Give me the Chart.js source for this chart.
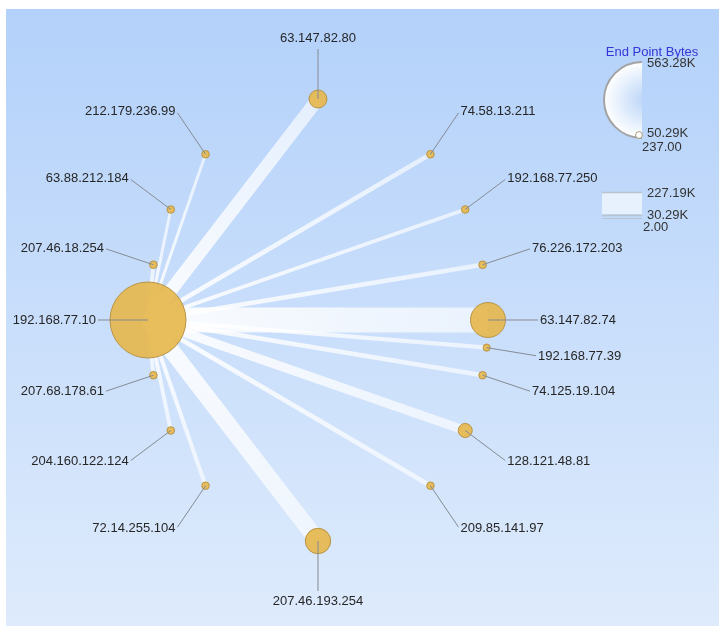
<!DOCTYPE html>
<html>
<head>
<meta charset="utf-8">
<title>End Point Bytes</title>
<script src="https://cdn.jsdelivr.net/npm/chart.js@4.4.1/dist/chart.umd.min.js"></script>
<style>
  body { margin: 0; background: #fff; }
  canvas { display: block; }
</style>
</head>
<body>
<canvas id="graphChart" width="719" height="629"></canvas>
<script>
// hosts around the ring, index 0 is the hub everything talks to
const hosts = ['192.168.77.10', '63.147.82.80', '74.58.13.211', '192.168.77.250', '76.226.172.203',
    '63.147.82.74', '192.168.77.39', '74.125.19.104', '128.121.48.81', '209.85.141.97',
    '207.46.193.254', '72.14.255.104', '204.160.122.124', '207.68.178.61', '207.46.18.254',
    '63.88.212.184', '212.179.236.99'];
// layout: row on the ellipse (-4 top .. 4 bottom) and side (-1 left, 1 right)
const slots = [0, -4, -3, -2, -1, 0, 0.5, 1, 2, 3, 4, 3, 2, 1, -1, -2, -3];
const sides = [-1, 0, 1, 1, 1, 1, 1, 1, 1, 1, 0, -1, -1, -1, -1, -1, -1];
// bytes per end point (K)
const endPointBytes = [563.28, 133, 56, 56, 57, 259, 53, 56, 104, 56, 188, 56, 56, 56, 57, 56, 56];
// bytes on the link hub -> host (K)
const linkBytes = [null, 118, 40, 36, 42, 227.19, 38, 42, 82, 44, 150, 36, 35, 35, 34, 27, 27];
const nodeLegend = ['563.28K', '50.29K', '237.00'];
const linkLegend = ['227.19K', '30.29K', '2.00'];

const MAX_NODE = 563.28, MAX_LINK = 227.19;
const FONT = '13px "Liberation Sans", Arial, sans-serif';

const xOf = i => sides[i] * Math.sqrt(1 - Math.pow(slots[i] / 4, 2));
const nodeR = v => Math.max(3, 38 * v / MAX_NODE);
const linkW = v => Math.max(2, 25 * v / MAX_LINK);

function linkColor(ctx) {
    const chart = ctx.chart;
    const ds = chart.data.datasets[ctx.datasetIndex];
    if (!chart.chartArea || !ds) return 'rgba(255,255,255,0.7)';
    const xs = chart.scales.x, ys = chart.scales.y;
    const a = ds.data[0], b = ds.data[1];
    const g = chart.ctx.createLinearGradient(xs.getPixelForValue(a.x), ys.getPixelForValue(a.y),
        xs.getPixelForValue(b.x), ys.getPixelForValue(b.y));
    g.addColorStop(0, 'rgba(255,255,255,0.9)');
    g.addColorStop(1, 'rgba(255,255,255,0.62)');
    return g;
}

const linkSets = [];
hosts.forEach((h, i) => {
    if (i === 0) return;
    linkSets.push({
        type: 'line',
        label: h,
        data: [{x: xOf(0), y: slots[0]}, {x: xOf(i), y: slots[i]}],
        borderWidth: linkW(linkBytes[i]),
        borderColor: linkColor,
        borderCapStyle: 'butt',
        pointRadius: 0,
        order: 2,
        clip: false
    });
});

const nodeSet = {
    type: 'bubble',
    label: 'End Point Bytes',
    data: hosts.map((h, i) => ({x: xOf(i), y: slots[i], r: nodeR(endPointBytes[i])})),
    backgroundColor: 'rgba(230,183,78,0.92)',
    borderColor: '#b89445',
    borderWidth: 1,
    order: 1,
    clip: false
};

const backdrop = {
    id: 'backdrop',
    beforeDraw(chart) {
        const c = chart.ctx;
        c.save();
        c.fillStyle = '#fff';
        c.fillRect(0, 0, chart.width, chart.height);
        const g = c.createLinearGradient(0, 9, 0, 626);
        g.addColorStop(0, '#b3d1fa');
        g.addColorStop(1, '#deebfc');
        c.fillStyle = g;
        c.fillRect(6, 9, chart.width - 6, 617);
        c.restore();
    }
};

const hostLabels = {
    id: 'hostLabels',
    afterDatasetsDraw(chart) {
        const c = chart.ctx;
        const meta = chart.getDatasetMeta(chart.data.datasets.indexOf(nodeSet));
        const cx = chart.scales.x.getPixelForValue(0), cy = chart.scales.y.getPixelForValue(0);
        c.save();
        c.font = FONT;
        c.fillStyle = '#262626';
        c.strokeStyle = '#858b93';
        c.lineWidth = 1;
        meta.data.forEach((pt, i) => {
            const dx = pt.x - cx, dy = pt.y - cy;
            const len = Math.hypot(dx, dy);
            const ux = dx / len, uy = dy / len;
            const ex = pt.x + ux * 50, ey = pt.y + uy * 50;
            c.beginPath();
            c.moveTo(pt.x, pt.y);
            c.lineTo(ex, ey);
            c.stroke();
            if (Math.abs(ux) < 0.01) {
                c.textAlign = 'center';
                c.textBaseline = uy < 0 ? 'bottom' : 'top';
                c.fillText(hosts[i], ex, ey + (uy < 0 ? -4 : 4));
            } else {
                c.textAlign = ux < 0 ? 'right' : 'left';
                c.textBaseline = 'middle';
                c.fillText(hosts[i], ex + (ux < 0 ? -2 : 2), ey + uy * 2);
            }
        });
        c.restore();
    }
};

const sizeLegend = {
    id: 'sizeLegend',
    afterDraw(chart) {
        const c = chart.ctx;
        c.save();
        c.font = FONT;
        c.fillStyle = '#3535d8';
        c.textAlign = 'center';
        c.textBaseline = 'middle';
        c.fillText('End Point Bytes', 652, 52);

        // half disc for node sizes
        const g = c.createRadialGradient(646, 100, 2, 642, 100, 38);
        g.addColorStop(0, '#bcd6f8');
        g.addColorStop(1, '#ffffff');
        c.beginPath();
        c.arc(642, 100, 38, Math.PI / 2, Math.PI * 1.5);
        c.closePath();
        c.fillStyle = g;
        c.fill();
        c.beginPath();
        c.arc(642, 100, 38, Math.PI / 2, Math.PI * 1.5);
        c.strokeStyle = '#a3a3a3';
        c.lineWidth = 2;
        c.stroke();
        c.beginPath();
        c.arc(639, 135, nodeR(50.29), 0, Math.PI * 2);
        c.fillStyle = '#fff';
        c.fill();
        c.strokeStyle = '#a89a7a';
        c.lineWidth = 1;
        c.stroke();

        // band for link widths
        c.fillStyle = '#e7f0fd';
        c.fillRect(602, 192, 40, 22);
        c.strokeStyle = '#b9c2cd';
        c.lineWidth = 1.5;
        c.beginPath(); c.moveTo(602, 192.5); c.lineTo(642, 192.5); c.stroke();
        c.beginPath(); c.moveTo(602, 215.5); c.lineTo(642, 215.5); c.stroke();
        c.lineWidth = 1;
        c.beginPath(); c.moveTo(602, 218.5); c.lineTo(642, 218.5); c.stroke();

        c.fillStyle = '#333';
        c.textAlign = 'left';
        c.fillText(nodeLegend[0], 647, 63);
        c.fillText(nodeLegend[1], 647, 133);
        c.fillText(nodeLegend[2], 642, 147);
        c.fillText(linkLegend[0], 647, 193);
        c.fillText(linkLegend[1], 647, 215);
        c.fillText(linkLegend[2], 643, 227);
        c.restore();
    }
};

const graphChart = new Chart(document.getElementById('graphChart').getContext('2d'), {
    type: 'bubble',
    data: {
        datasets: [nodeSet].concat(linkSets)
    },
    options: {
        responsive: false,
        animation: false,
        events: [],
        layout: { padding: 0, autoPadding: false },
        scales: {
            x: { type: 'linear', display: false, min: -318 / 170, max: (719 - 318) / 170 },
            y: { type: 'linear', display: false, reverse: true, min: -320 / 55.25, max: 309 / 55.25 }
        },
        plugins: {
            legend: { display: false },
            tooltip: { enabled: false }
        }
    },
    plugins: [backdrop, hostLabels, sizeLegend]
});
</script>
</body>
</html>
